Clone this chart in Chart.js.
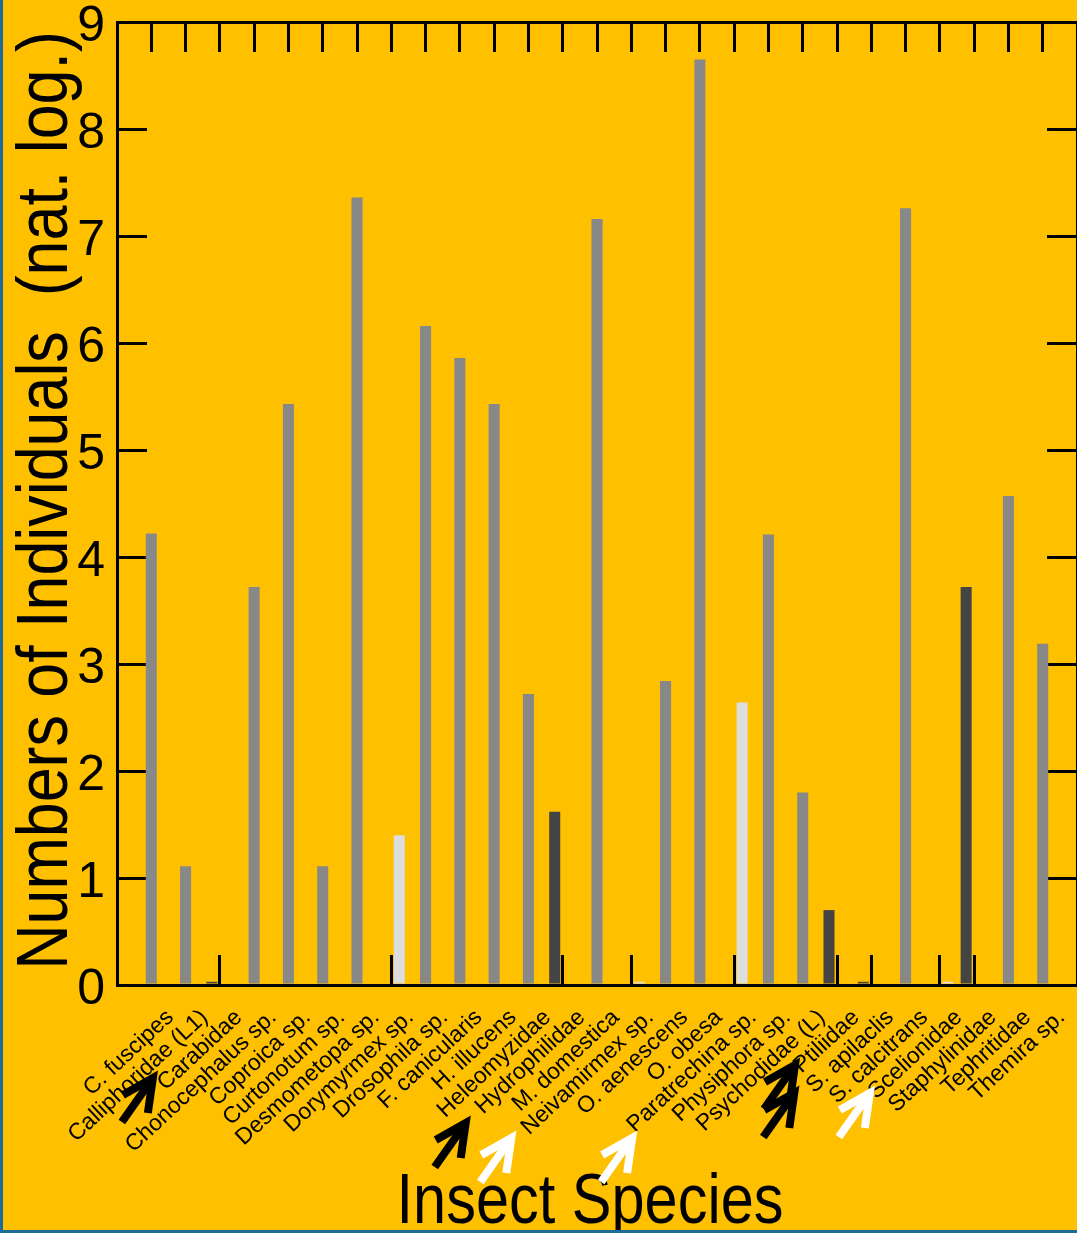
<!DOCTYPE html>
<html>
<head>
<meta charset="utf-8">
<script src="https://cdn.jsdelivr.net/npm/chart.js@4/dist/chart.umd.min.js"></script>
<style>
  html, body { margin: 0; padding: 0; background: #1d6a9b; overflow: hidden; }
  #wrap { position: absolute; left: 3px; top: 0; width: 1074px; height: 1230px; background: #ffc000; }
</style>
</head>
<body>
<div id="wrap"><canvas id="c" width="1074" height="1230"></canvas></div>
<script>
// Species along the x axis
const species = [
  'C. fuscipes', 'Calliphoridae (L1)', 'Carabidae', 'Chonocephalus sp.', 'Coproica sp.',
  'Curtonotum sp.', 'Desmometopa sp.', 'Dorymyrmex sp.', 'Drosophila sp.', 'F. canicularis',
  'H. illucens', 'Heleomyzidae', 'Hydrophilidae', 'M. domestica', 'Neivamirmex sp.',
  'O. aenescens', 'O. obesa', 'Paratrechina sp.', 'Physiphora sp.', 'Psychodidae (L)',
  'Ptiliidae', 'S. apilaclis', 'S. calcitrans', 'Scelionidae', 'Staphylinidae',
  'Tephritidae', 'Themira sp.'
];

// Natural-log abundances, one array per series (null = no bar)
const darkSeries = [
  null, null, 0.03, null, null, null, null, null, null, null,
  null, null, 1.62, null, null, null, null, null, null, null,
  0.70, 0.03, null, null, 3.72, null, null
];
const midSeries = [
  4.22, 1.11, null, 3.72, 5.43, 1.11, 7.36, null, 6.16, 5.86,
  5.43, 2.72, null, 7.16, null, 2.84, 8.65, null, 4.21, 1.80,
  null, null, 7.26, null, null, 4.57, 3.19
];
const lightSeries = [
  null, null, null, null, null, null, null, 1.40, null, null,
  null, null, null, null, 0.03, null, null, 2.64, null, null,
  null, null, null, 0.03, null, null, null
];

// y-axis tick values
const yTicks = [0, 1, 2, 3, 4, 5, 6, 7, 8, 9];

// Axis titles
const xTitle = 'Insect Species';
const yTitle = 'Numbers of Individuals  (nat. log.)';

// Species flagged with an arrow under their label
const flagged = ['Carabidae', 'Hydrophilidae', 'Neivamirmex sp.', 'Paratrechina sp.', 'Ptiliidae', 'S. apilaclis', 'Scelionidae'];

const DARK = '#444444', MID = '#888888', LIGHT = '#dddddd';
const FONT = '"Liberation Sans", Arial, Helvetica, sans-serif';

// One empty slot at each end keeps the bars a full step away from the axes
const labels = ['', ...species, ''];
const pad = arr => [null, ...arr, null];

const hasSideBar = labels.map((l, i) => i > 0 && i <= species.length &&
  (darkSeries[i - 1] !== null || lightSeries[i - 1] !== null));

// Arrow placement relative to each flagged label (px from tick / axis line)
const arrowPlacement = {
  'Carabidae':       [-67, 93],
  'Hydrophilidae':   [-97, 138],
  'Neivamirmex sp.': [-120, 153],
  'Paratrechina sp.':[-102, 153],
  'Ptiliidae':       [-42, 80],
  'S. apilaclis':    [-77, 108],
  'Scelionidae':     [-70, 108]
};

// Condensed axis titles
const titlePlugin = {
  id: 'condensedTitles',
  afterDraw(chart) {
    const ctx = chart.ctx;
    const a = chart.chartArea;
    ctx.save();
    ctx.fillStyle = '#000000';
    ctx.textAlign = 'center';
    ctx.textBaseline = 'alphabetic';
    // x title
    ctx.save();
    ctx.font = '70px ' + FONT;
    ctx.translate((a.left + a.right) / 2 - 7, a.bottom + 238);
    ctx.scale(0.85, 1);
    ctx.fillText(xTitle, 0, 0);
    ctx.restore();
    // y title
    ctx.save();
    ctx.font = '72px ' + FONT;
    ctx.translate(64, (a.top + a.bottom) / 2 - 3);
    ctx.rotate(-Math.PI / 2);
    ctx.scale(0.872, 1);
    ctx.fillText(yTitle, 0, 0);
    ctx.restore();
    ctx.restore();
  }
};

const arrowPlugin = {
  id: 'flagArrows',
  afterDraw(chart) {
    const ctx = chart.ctx;
    const xs = chart.scales.x;
    const base = chart.chartArea.bottom;
    ctx.save();
    ctx.lineWidth = 8;
    ctx.lineCap = 'butt';
    ctx.lineJoin = 'miter';
    flagged.forEach(name => {
      const i = species.indexOf(name);
      const colour = darkSeries[i] !== null ? '#000000' : '#ffffff';
      const [dx, dy] = arrowPlacement[name];
      const tx = xs.getPixelForValue(i + 1) + dx;
      const ty = base + dy;
      ctx.strokeStyle = colour;
      ctx.beginPath();
      ctx.moveTo(tx - 31, ty + 44);
      ctx.lineTo(tx, ty);
      ctx.stroke();
      ctx.beginPath();
      ctx.moveTo(tx - 30, ty + 17);
      ctx.lineTo(tx, ty);
      ctx.lineTo(tx - 5, ty + 35);
      ctx.stroke();
    });
    ctx.restore();
  }
};

const noPad = s => { s.paddingLeft = 0; s.paddingRight = 0; s.paddingTop = 0; s.paddingBottom = 0; };

const barCommon = { categoryPercentage: 0.7, barPercentage: 1.38, borderWidth: 0 };

new Chart(document.getElementById('c'), {
  type: 'bar',
  data: {
    labels,
    datasets: [
      { label: 'dark', data: pad(darkSeries), backgroundColor: DARK, ...barCommon },
      { label: 'mid', data: pad(midSeries), backgroundColor: MID, ...barCommon },
      { label: 'light', data: pad(lightSeries), backgroundColor: LIGHT, ...barCommon }
    ]
  },
  options: {
    responsive: false,
    animation: false,
    devicePixelRatio: 1,
    layout: { padding: { left: 0, right: -3, top: 0, bottom: 0 } },
    plugins: { legend: { display: false }, tooltip: { enabled: false } },
    scales: {
      x: {
        type: 'category',
        position: 'bottom',
        offset: false,
        grid: {
          offset: false,
          drawOnChartArea: false,
          tickLength: -30,
          lineWidth: 3,
          tickWidth: 3,
          tickColor: c => hasSideBar[c.index] ? '#000000' : 'rgba(0,0,0,0)'
        },
        border: { color: '#000000', width: 3 },
        ticks: {
          autoSkip: false,
          minRotation: 43,
          maxRotation: 43,
          padding: 49,
          labelOffset: 19,
          color: '#000000',
          font: { family: FONT, size: 23 }
        },
        afterFit: s => { s.height = 245; noPad(s); }
      },
      x2: {
        type: 'category',
        position: 'top',
        offset: false,
        grid: {
          offset: false,
          drawOnChartArea: false,
          tickLength: -30,
          lineWidth: 3,
          tickWidth: 3,
          tickColor: '#000000'
        },
        border: { color: '#000000', width: 3 },
        ticks: { display: false },
        afterFit: s => { s.height = 22; noPad(s); }
      },
      y: {
        type: 'linear',
        position: 'left',
        min: yTicks[0],
        max: yTicks[yTicks.length - 1],
        afterBuildTicks: s => { s.ticks = yTicks.map(v => ({ value: v })); },
        grid: {
          drawOnChartArea: false,
          tickLength: -30,
          lineWidth: 3,
          tickWidth: 3,
          tickColor: '#000000'
        },
        border: { color: '#000000', width: 3 },
        ticks: {
          padding: 42,
          labelOffset: 5,
          color: '#000000',
          font: { family: FONT, size: 50 }
        },
        afterFit: s => { s.width = 114; noPad(s); }
      },
      y2: {
        type: 'linear',
        position: 'right',
        min: yTicks[0],
        max: yTicks[yTicks.length - 1],
        afterBuildTicks: s => { s.ticks = yTicks.map(v => ({ value: v })); },
        grid: {
          drawOnChartArea: false,
          tickLength: -30,
          lineWidth: 3,
          tickWidth: 3,
          tickColor: '#000000'
        },
        border: { color: '#000000', width: 3 },
        ticks: { display: false },
        afterFit: s => { s.width = 0; noPad(s); }
      }
    }
  },
  plugins: [titlePlugin, arrowPlugin]
});
</script>
</body>
</html>
